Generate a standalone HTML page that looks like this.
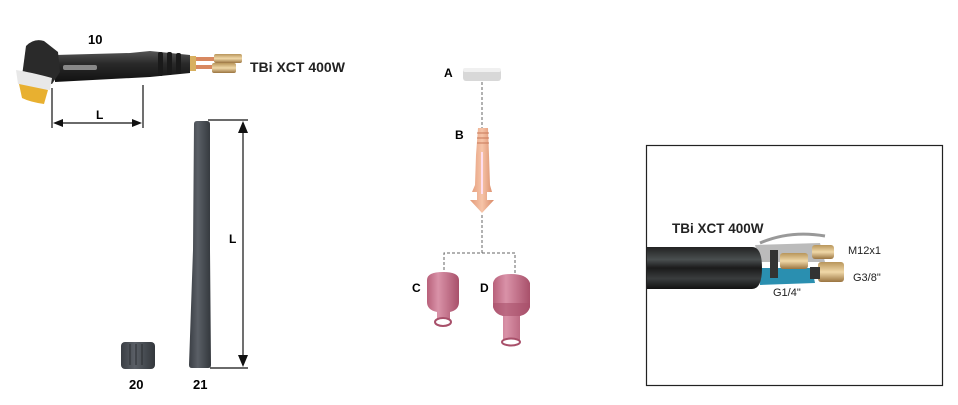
<!DOCTYPE html>
<html><head><meta charset="utf-8"><style>
body{margin:0;background:#fff;width:958px;height:405px;overflow:hidden}
svg{display:block;font-family:"Liberation Sans",sans-serif}
</style></head><body>
<svg width="958" height="405" viewBox="0 0 958 405">
<defs>
<linearGradient id="dk" x1="0" y1="0" x2="0" y2="1"><stop offset="0" stop-color="#555"/><stop offset="0.4" stop-color="#2a2a2a"/><stop offset="1" stop-color="#111"/></linearGradient>
<linearGradient id="rod" x1="0" y1="0" x2="1" y2="0"><stop offset="0" stop-color="#3a3e44"/><stop offset="0.4" stop-color="#5a5f66"/><stop offset="1" stop-color="#33373c"/></linearGradient>
<linearGradient id="cu" x1="0" y1="0" x2="1" y2="0"><stop offset="0" stop-color="#e39a78"/><stop offset="0.5" stop-color="#f6c4a8"/><stop offset="1" stop-color="#d98a68"/></linearGradient>
<linearGradient id="pk" x1="0" y1="0" x2="1" y2="0"><stop offset="0" stop-color="#b8607a"/><stop offset="0.35" stop-color="#d992a8"/><stop offset="1" stop-color="#a8506a"/></linearGradient>
<linearGradient id="cab" x1="0" y1="0" x2="0" y2="1"><stop offset="0" stop-color="#222"/><stop offset="0.3" stop-color="#4a4f50"/><stop offset="0.5" stop-color="#1b1b1b"/><stop offset="0.75" stop-color="#3a3d3e"/><stop offset="1" stop-color="#111"/></linearGradient>
<linearGradient id="br" x1="0" y1="0" x2="0" y2="1"><stop offset="0" stop-color="#b8955a"/><stop offset="0.5" stop-color="#f0d8a8"/><stop offset="1" stop-color="#9a7440"/></linearGradient>
</defs>
<!-- torch -->
<path d="M55 55 L130 53 L150 51 L190 55 L190 73 L150 77 L55 82 Z" fill="url(#dk)"/>
<g fill="#1a1a1a"><rect x="158" y="52" width="5" height="24" rx="2"/><rect x="167" y="52" width="5" height="23" rx="2"/><rect x="176" y="53" width="5" height="21" rx="2"/></g>
<rect x="63" y="65" width="34" height="5" rx="2" fill="#888"/>
<path d="M26 46 Q34 38 44 41 L58 52 L60 72 L52 84 L22 76 Z" fill="#2a2a2a"/>
<path d="M16 70 Q30 72 52 78 L50 90 Q30 88 18 84 Z" fill="#e8e8e8"/>
<path d="M19 84 L48 90 L44 104 Q30 102 22 98 Z" fill="#e8b030"/>
<rect x="190" y="56" width="6" height="15" fill="#d8b060"/>
<rect x="196" y="57" width="20" height="4" fill="#d88860"/><rect x="196" y="65" width="18" height="4" fill="#d88860"/>
<rect x="214" y="54" width="28" height="9" rx="2" fill="url(#br)"/><rect x="212" y="63" width="24" height="10" rx="2" fill="url(#br)"/>
<text x="88" y="44" font-size="13" font-weight="bold">10</text>
<text x="250" y="72" font-size="14" font-weight="bold" fill="#222">TBi XCT 400W</text>
<g stroke="#111" stroke-width="1.2"><line x1="52" y1="88" x2="52" y2="128"/><line x1="143" y1="85" x2="143" y2="128"/><line x1="56" y1="123" x2="139" y2="123"/></g>
<path d="M53 123 L63 119 L63 127Z M142 123 L132 119 L132 127Z" fill="#111"/>
<text x="96" y="119" font-size="12" font-weight="bold">L</text>
<!-- rod -->
<path d="M194 124 Q194 121 197 121 L207 121 Q210 121 210 124 L210 250 L211 365 Q211 368 208 368 L192 368 Q189 368 189 365 L193 250 Z" fill="url(#rod)"/>
<g stroke="#111" stroke-width="1.2"><line x1="208" y1="120" x2="248" y2="120"/><line x1="210" y1="368" x2="248" y2="368"/><line x1="243" y1="123" x2="243" y2="365"/></g>
<path d="M243 121 L238 133 L248 133Z M243 367 L238 355 L248 355Z" fill="#111"/>
<text x="229" y="243" font-size="12" font-weight="bold">L</text>
<!-- cap 20 -->
<rect x="121" y="342" width="34" height="27" rx="4" fill="url(#rod)"/>
<g stroke="#2a2d31" stroke-width="1"><line x1="130" y1="344" x2="130" y2="365"/><line x1="136" y1="344" x2="136" y2="365"/><line x1="142" y1="344" x2="142" y2="365"/></g>
<text x="129" y="389" font-size="13" font-weight="bold">20</text>
<text x="193" y="389" font-size="13" font-weight="bold">21</text>
<!-- A -->
<text x="444" y="77" font-size="12" font-weight="bold">A</text>
<rect x="463" y="68" width="38" height="13" rx="3" fill="#d8d8d8"/><rect x="463" y="68" width="38" height="4" rx="2" fill="#f0f0f0"/>
<g stroke="#666" stroke-width="1" stroke-dasharray="3,2" fill="none"><line x1="482" y1="82" x2="482" y2="128"/><line x1="482" y1="215" x2="482" y2="253"/><path d="M444 275 L444 253 L515 253 L515 275"/></g>
<text x="455" y="139" font-size="12" font-weight="bold">B</text>
<path d="M478 128 L488 128 L489 155 L490 185 L492 192 L487 192 L487 200 L494 200 L482 213 L470 200 L477 200 L477 192 L472 192 L475 185 L476 155 Z" fill="url(#cu)"/>
<g stroke="#c87858" stroke-width="1"><line x1="477" y1="133" x2="489" y2="133"/><line x1="477" y1="138" x2="489" y2="138"/><line x1="477" y1="143" x2="489" y2="143"/></g>
<rect x="481" y="152" width="2" height="42" fill="#fde"/>
<!-- C D -->
<text x="412" y="292" font-size="12" font-weight="bold">C</text>
<path d="M427 280 Q427 272 443 272 Q459 272 459 280 L459 302 Q459 310 450 312 L450 320 L437 320 L437 312 Q427 310 427 302 Z" fill="url(#pk)"/>
<ellipse cx="443" cy="322" rx="8" ry="4" fill="#fff" stroke="#a8506a" stroke-width="2"/>
<text x="480" y="292" font-size="12" font-weight="bold">D</text>
<path d="M493 283 Q495 274 511 274 Q527 274 530 283 L530 307 Q528 314 520 316 L520 340 L503 340 L503 316 Q495 314 493 307 Z" fill="url(#pk)"/>
<path d="M493 303 L530 303 L530 307 Q528 314 520 316 L503 316 Q495 314 493 307 Z" fill="#a8506a" opacity="0.6"/>
<ellipse cx="511" cy="342" rx="9" ry="3.5" fill="#fff" stroke="#a8506a" stroke-width="2"/>
<!-- box -->
<rect x="646.5" y="145.5" width="296" height="240" fill="none" stroke="#222" stroke-width="1.2"/>
<text x="672" y="233" font-size="13.5" font-weight="bold" fill="#222">TBi XCT 400W</text>
<path d="M760 243 Q790 230 825 236" stroke="#999" stroke-width="3" fill="none"/>
<path d="M755 245 L820 243 L825 262 L760 262 Z" fill="#bbb"/>
<path d="M760 268 L812 268 L815 283 L760 285 Z" fill="#2a8fb0"/>
<rect x="770" y="250" width="8" height="28" fill="#333"/>
<rect x="780" y="253" width="28" height="16" rx="3" fill="url(#br)"/>
<rect x="812" y="245" width="22" height="14" rx="3" fill="url(#br)"/>
<rect x="818" y="262" width="26" height="20" rx="3" fill="url(#br)"/>
<rect x="810" y="267" width="10" height="12" fill="#333"/>
<path d="M647 247 L752 247 Q762 247 762 268 Q762 289 752 289 L647 289 Z" fill="url(#cab)"/>
<text x="848" y="254" font-size="11" fill="#222">M12x1</text>
<text x="853" y="281" font-size="11" fill="#222">G3/8"</text>
<text x="773" y="296" font-size="11" fill="#222">G1/4"</text>
</svg>
</body></html>
